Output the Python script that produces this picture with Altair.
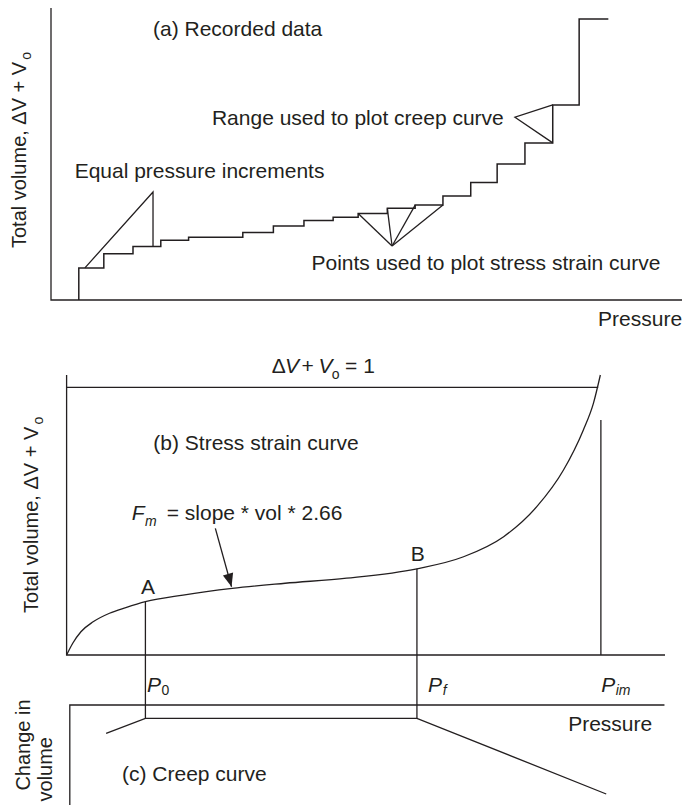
import altair as alt
import pandas as pd

FONT = "Liberation Sans"
INK = "#231f20"
LW = 1.3

# ---------------- (a) Recorded data ----------------
# pressure (equal increments) at which each volume step begins, and the volume reached
rec_p = [1.0, 1.0, 1.9, 2.95, 3.95, 4.95, 6.9, 8.0, 9.1, 10.15, 11.05, 12.1,
         13.1, 14.1, 15.1, 16.05, 17.05, 18.05, 19.0, 20.05]
rec_v = [0.0, 1.10, 1.58, 1.83, 2.05, 2.15, 2.31, 2.53, 2.72, 2.83, 2.96, 3.14,
         3.25, 3.56, 4.02, 4.66, 5.38, 6.68, 9.62, 9.62]

a_axis_p = [0, 0, 22.7]
a_axis_v = [10, 0, 0]

incr_p = [1.22, 3.67, 3.67]          # "equal pressure increments" wedge
incr_v = [1.10, 3.70, 1.83]

fan_apex_p, fan_apex_v = 12.27, 1.85  # points used for the stress-strain curve
fan_p = [11.05, 12.1, 13.1, 14.1]
fan_v = [2.96, 3.14, 3.25, 3.25]

crange_p = [18.05, 16.69, 18.05]     # range used for the creep curve
crange_v = [6.68, 6.26, 5.38]

a_text = ["(a) Recorded data", "Range used to plot creep curve",
          "Equal pressure increments", "Points used to plot stress strain curve",
          "Pressure"]
a_text_p = [3.67, 5.79, 0.85, 9.37, 19.68]
a_text_v = [9.04, 5.99, 4.18, 1.03, -0.89]

# ---------------- (b) Stress strain curve ----------------
P0, Pf, Pim = 1.475, 6.557, 10.0
ss_p = [0, 0.115, 0.268, 0.496, 0.803, 1.108, 1.475, 2.18, 3.1, 4.09, 5.24,
        6.557, 7.43, 8.18, 8.80, 9.30, 9.67, 9.86, 9.99]
ss_v = [0, 0.044, 0.087, 0.124, 0.156, 0.177, 0.199, 0.224, 0.249, 0.268, 0.287,
        0.322, 0.367, 0.442, 0.554, 0.691, 0.840, 0.940, 1.046]
ss_at_p0, ss_at_pf = 0.199, 0.322

b_axis_p = [0, 0, 11.2]
b_axis_v = [1.046, 0, 0]
unity_p = [0, 9.95]
unity_v = [1, 1]
pim_v = [0, 0.878]

arrow_p = [2.784, 3.087]
arrow_v = [0.473, 0.255]

# ---------------- (c) Creep curve ----------------
creep_p = [0.74, P0, Pf, 10.1]
creep_w = [0.283, 0.133, 0.133, 0.89]
c_axis_p = [0.06, 0.06, 11.19]
c_axis_w = [1.0, 0, 0]

# ---------------- scales (one per panel) ----------------
xa = alt.Scale(domain=[0, 22.7], range=[51, 682], nice=False, zero=False)
ya = alt.Scale(domain=[0, 10], range=[300, 8], nice=False, zero=False)
xb = alt.Scale(domain=[0, 11.2], range=[66.6, 665], nice=False, zero=False)
yb = alt.Scale(domain=[0, 1], range=[655, 387.3], nice=False, zero=False)
yc = alt.Scale(domain=[-0.5, 1.0], range=[655, 805], nice=False, zero=False)


def xy(xs, ys):
    return dict(x=alt.X("p:Q", scale=xs, axis=None),
                y=alt.Y("v:Q", scale=ys, axis=None))


def lines(segs, xs, ys, interpolate="linear", width=LW):
    rows = []
    for k, (ps, vs) in enumerate(segs):
        for i, (p, v) in enumerate(zip(ps, vs)):
            rows.append({"seg": k, "i": i, "p": p, "v": v})
    return alt.Chart(pd.DataFrame(rows)).mark_line(
        interpolate=interpolate, color=INK, strokeWidth=width, strokeJoin="miter"
    ).encode(detail="seg:N", order="i:Q", **xy(xs, ys))


def label(texts, ps, vs, xs, ys, size=21, italic=False, align="left", angle=0):
    kw = dict(align=align, baseline="alphabetic", font=FONT, fontSize=size,
              color=INK, angle=angle)
    if italic:
        kw["fontStyle"] = "italic"
    df = pd.DataFrame({"t": texts, "p": ps, "v": vs})
    return alt.Chart(df).mark_text(**kw).encode(text="t:N", **xy(xs, ys))


# ---------- panel (a) ----------
panel_a = alt.layer(
    lines([(a_axis_p, a_axis_v)], xa, ya),
    lines([(rec_p, rec_v)], xa, ya, interpolate="step-after", width=1.5),
    lines([(incr_p, incr_v), (crange_p, crange_v)]
          + [([fan_apex_p, p], [fan_apex_v, v]) for p, v in zip(fan_p, fan_v)],
          xa, ya),
    label(a_text, a_text_p, a_text_v, xa, ya),
    label(["Total volume, \u0394V + V"], [-0.90], [1.78], xa, ya, size=20, angle=270),
    label(["o"], [-0.72], [8.23], xa, ya, size=14, angle=270),
)

# ---------- panel (b) ----------
panel_b = alt.layer(
    lines([(b_axis_p, b_axis_v), (unity_p, unity_v), ([Pim, Pim], pim_v),
           ([P0, P0], [ss_at_p0, 0]), ([Pf, Pf], [ss_at_pf, 0]),
           (arrow_p, arrow_v)], xb, yb),
    lines([(ss_p, ss_v)], xb, yb, interpolate="monotone"),
    alt.Chart(pd.DataFrame({"p": [arrow_p[1]], "v": [arrow_v[1]]})).mark_point(
        shape="M0,0L-0.4,-1L0.4,-1Z", size=700, filled=True, color=INK,
        opacity=1, angle=344.5
    ).encode(**xy(xb, yb)),
    # Delta V + V_o = 1
    label(["\u0394", "+", "= 1"], [3.84, 4.398, 5.213], [1.052] * 3, xb, yb),
    label(["V", "V"], [4.089, 4.713], [1.052] * 2, xb, yb, italic=True),
    label(["o"], [4.963], [1.031], xb, yb, size=14),
    label(["(b) Stress strain curve"], [1.623], [0.764], xb, yb),
    # F_m = slope * vol * 2.66
    label(["F"], [1.219], [0.506], xb, yb, italic=True),
    label(["m"], [1.468], [0.482], xb, yb, size=14, italic=True),
    label(["= slope * vol * 2.66"], [1.874], [0.506], xb, yb),
    label(["A", "B"], [1.524, 6.57], [0.228, 0.351], xb, yb, align="center"),
    # P_0, P_f, P_im
    label(["P", "P", "P"], [1.505, 6.766, 10.006], [-0.138] * 3, xb, yb, italic=True),
    label(["0"], [1.777], [-0.151], xb, yb, size=14),
    label(["f", "im"], [7.038, 10.277], [-0.151] * 2, xb, yb, size=14, italic=True),
    label(["Total volume, \u0394V + V"], [-0.53], [0.157], xb, yb, size=20, angle=270),
    label(["o"], [-0.44], [0.861], xb, yb, size=14, angle=270),
)

# ---------- panel (c) ----------
panel_c = alt.layer(
    lines([(c_axis_p, c_axis_w), ([P0, P0], [-0.5, creep_w[1]]),
           ([Pf, Pf], [-0.5, creep_w[2]]), (creep_p, creep_w)], xb, yc),
    label(["Pressure"], [9.388], [0.26], xb, yc),
    label(["(c) Creep curve"], [1.037], [0.76], xb, yc),
    label(["Change in"], [-0.685], [0.40], xb, yc, size=20, angle=270, align="center"),
    label(["volume"], [-0.273], [0.32], xb, yc, size=20, angle=270, align="right"),
)

panel_bc = alt.layer(panel_b, panel_c).resolve_scale(y="independent")

chart = (
    alt.layer(panel_a, panel_bc)
    .resolve_scale(x="independent", y="independent")
    .properties(width=684, height=805, padding=0, autosize="none", background="white")
    .configure_view(stroke=None)
)

chart.save("out.html", embed_options={"renderer": "svg", "actions": False})
